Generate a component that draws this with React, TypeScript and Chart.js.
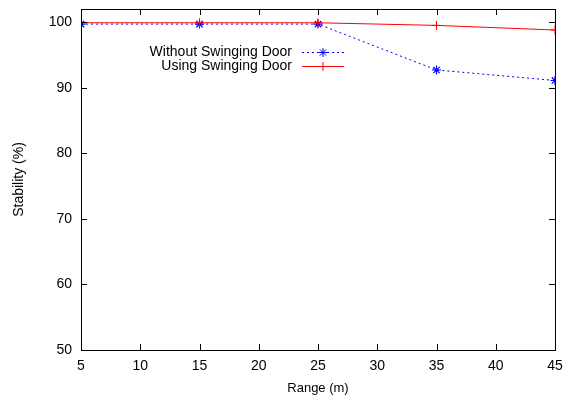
import React, { useEffect, useRef } from "react";
import { Chart, registerables } from "chart.js";

Chart.register(...registerables);

const ranges = [5, 15, 25, 35, 45];
const withoutSD = [99.7, 99.7, 99.7, 92.7, 91.1];
const usingSD = [99.9, 99.9, 99.9, 99.5, 98.8];
const xTicks = [5, 10, 15, 20, 25, 30, 35, 40, 45];
const yTicks = [50, 60, 70, 80, 90, 100];
const labelWithout = "Without Swinging Door";
const labelUsing = "Using Swinging Door";

const FONT = "'Liberation Sans', Arial, sans-serif";

function drawMarker(ctx: any, style: string, x: number, y: number, r: number, color: string) {
  ctx.save();
  ctx.strokeStyle = color;
  ctx.lineWidth = 1;
  ctx.beginPath();
  ctx.moveTo(x - r, y);
  ctx.lineTo(x + r, y);
  ctx.moveTo(x, y - r);
  ctx.lineTo(x, y + r);
  if (style === "star") {
    const d = r * Math.SQRT1_2;
    ctx.moveTo(x - d, y - d);
    ctx.lineTo(x + d, y + d);
    ctx.moveTo(x - d, y + d);
    ctx.lineTo(x + d, y - d);
  }
  ctx.stroke();
  ctx.restore();
}

const framePlugin = {
  id: "frame",
  afterDraw(chart: any) {
    const { ctx, chartArea: a, scales } = chart;
    ctx.save();
    ctx.strokeStyle = "#000";
    ctx.lineWidth = 1;
    ctx.strokeRect(Math.round(a.left) + 0.5, Math.round(a.top) + 0.5, Math.round(a.right - a.left), Math.round(a.bottom - a.top));
    const tl = 6;
    ctx.beginPath();
    for (const v of xTicks) {
      const x = Math.round(scales.x.getPixelForValue(v)) + 0.5;
      ctx.moveTo(x, a.bottom);
      ctx.lineTo(x, a.bottom - tl);
      ctx.moveTo(x, a.top);
      ctx.lineTo(x, a.top + tl);
    }
    for (const v of yTicks) {
      const y = Math.round(scales.y.getPixelForValue(v)) + 0.5;
      ctx.moveTo(a.left, y);
      ctx.lineTo(a.left + tl, y);
      ctx.moveTo(a.right, y);
      ctx.lineTo(a.right - tl, y);
    }
    ctx.stroke();

    const items = [
      { label: labelWithout, ds: chart.data.datasets[0], y: 52.5 },
      { label: labelUsing, ds: chart.data.datasets[1], y: 66.5 },
    ];
    ctx.font = `14px ${FONT}`;
    ctx.textAlign = "right";
    ctx.textBaseline = "middle";
    for (const it of items) {
      ctx.fillStyle = "#000";
      ctx.fillText(it.label, 292, it.y);
      ctx.beginPath();
      ctx.strokeStyle = it.ds.borderColor;
      ctx.lineWidth = 1;
      ctx.setLineDash(it.ds.borderDash || []);
      ctx.moveTo(302, it.y);
      ctx.lineTo(344, it.y);
      ctx.stroke();
      ctx.setLineDash([]);
    }
    ctx.restore();
    for (const it of items) {
      drawMarker(ctx, it.ds.pointStyle, 323, it.y, 4.5, it.ds.borderColor);
    }
  },
};

export default function App() {
  const ref = useRef<HTMLCanvasElement>(null);
  useEffect(() => {
    if (!ref.current) return;
    const chart = new Chart(ref.current, {
      type: "line",
      data: {
        datasets: [
          {
            label: labelWithout,
            data: ranges.map((r, i) => ({ x: r, y: withoutSD[i] })),
            borderColor: "#0000ff",
            backgroundColor: "#0000ff",
            borderWidth: 1,
            borderDash: [2, 3],
            pointStyle: "star",
            pointRadius: 4.5,
            pointBorderWidth: 1.2,
            fill: false,
            order: 2,
          },
          {
            label: labelUsing,
            data: ranges.map((r, i) => ({ x: r, y: usingSD[i] })),
            borderColor: "#ff0000",
            backgroundColor: "#ff0000",
            borderWidth: 1,
            pointStyle: "cross",
            pointRadius: 4.5,
            pointBorderWidth: 1,
            fill: false,
            order: 1,
          },
        ],
      },
      options: {
        animation: false,
        responsive: false,
        maintainAspectRatio: false,
        layout: { padding: { top: 9, right: 16, left: 0, bottom: 0 } },
        plugins: { legend: { display: false }, tooltip: { enabled: false } },
        scales: {
          x: {
            type: "linear",
            min: 5,
            max: 45,
            afterBuildTicks: (s: any) => {
              s.ticks = xTicks.map((v) => ({ value: v }));
            },
            afterFit: (s: any) => {
              s.height = 49;
              s.paddingLeft = 0;
              s.paddingRight = 0;
            },
            grid: { display: false, drawTicks: false },
            border: { display: false },
            ticks: { color: "#000", font: { family: FONT, size: 14 }, padding: 8, maxRotation: 0 },
            title: { display: true, text: "Range (m)", color: "#000", font: { family: FONT, size: 13 }, padding: { top: 2, bottom: 3 } },
          },
          y: {
            type: "linear",
            min: 50,
            max: 102,
            afterBuildTicks: (s: any) => {
              s.ticks = yTicks.map((v) => ({ value: v }));
            },
            afterFit: (s: any) => {
              s.width = 81;
              s.paddingTop = 0;
              s.paddingBottom = 0;
            },
            grid: { display: false, drawTicks: false },
            border: { display: false },
            ticks: { color: "#000", font: { family: FONT, size: 14 }, padding: 9 },
            title: { display: true, text: "Stability (%)", color: "#000", font: { family: FONT, size: 14 }, padding: { top: 11, bottom: 4 } },
          },
        },
      },
      plugins: [framePlugin],
    } as any);
    return () => chart.destroy();
  }, []);
  return (
    <div style={{ position: "fixed", left: 0, top: 0, width: 571, height: 399, background: "#fff" }}>
      <canvas ref={ref} width={571} height={399} style={{ width: 571, height: 399 }} />
    </div>
  );
}
